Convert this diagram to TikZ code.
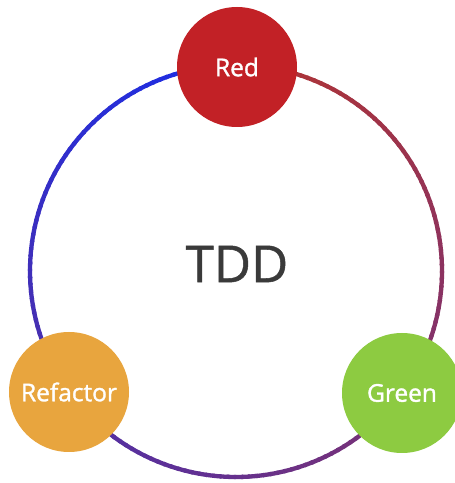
\documentclass[tikz,border=0pt]{standalone}
\usepackage{fontspec}
\setsansfont{Open Sans}
\newfontfamily\labelfont{Open Sans}[FakeBold=1.3]
\newfontfamily\titlefont{Open Sans}[FakeBold=1.0]
\definecolor{ringred}{RGB}{178,52,50}
\definecolor{ringblue}{RGB}{25,45,232}
\definecolor{redfill}{RGB}{194,33,38}
\definecolor{greenfill}{RGB}{141,203,65}
\definecolor{orangefill}{RGB}{232,165,62}
\definecolor{tddgray}{RGB}{58,58,58}
\tikzset{
  stage/.style={circle, minimum size=120pt, inner sep=0pt, text=white,
    font=\labelfont\fontsize{24.5}{25}\selectfont},
}
\begin{document}
\begin{tikzpicture}[x=1pt,y=1pt]
\useasboundingbox[fill=white] (0,0) rectangle (455,483);
\coordinate (c) at (236,212);
\foreach \i in {0,...,179}{
  \pgfmathsetmacro\q{100-\i/1.79}
  \pgfmathsetmacro\a{90-2*\i}
  \pgfmathsetmacro\b{90-2*\i-2.6}
  \draw[line width=4.3pt, color=ringred!\q!ringblue] ([shift={(\a:206pt)}]c) arc[start angle=\a, end angle=\b, radius=206pt];
}
\node[stage, fill=redfill] (red) at (237,416) {Red};
\node[stage, fill=greenfill] (green) at (402,90) {Green};
\node[stage, fill=orangefill] (refactor) at (69,91) {Refactor};
\node[text=tddgray, font=\titlefont\fontsize{51}{51}\selectfont] (tdd) at (237,219) {TDD};
\end{tikzpicture}
\end{document}
